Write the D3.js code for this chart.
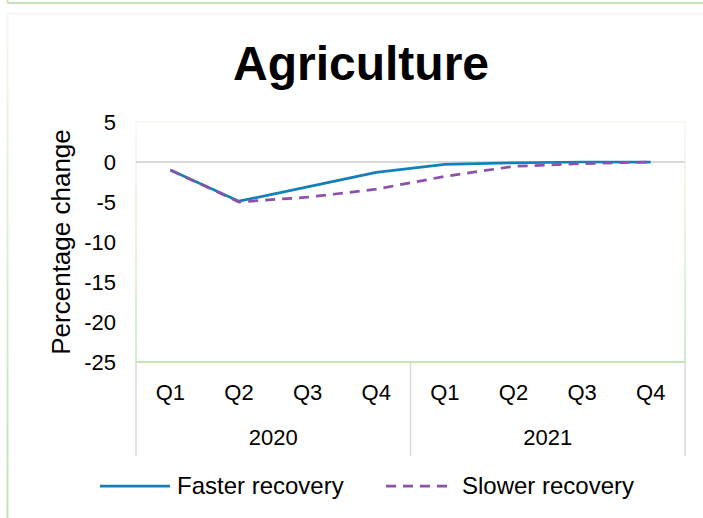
<!DOCTYPE html>
<html>
<head>
<meta charset="utf-8">
<script src="https://cdn.jsdelivr.net/npm/d3@7"></script>
<style>
  html, body { margin: 0; padding: 0; background: #ffffff; }
  svg { display: block; font-family: "Liberation Sans", Arial, sans-serif; }
</style>
</head>
<body>
<svg id="chart" width="703" height="518"></svg>
<script>
// Quarterly percentage change in agricultural output under two recovery paths
const years = ["2020", "2021"];
const quarters = ["Q1", "Q2", "Q3", "Q4"];
const categories = ["2020 Q1", "2020 Q2", "2020 Q3", "2020 Q4",
                    "2021 Q1", "2021 Q2", "2021 Q3", "2021 Q4"];
const fasterRecovery = [-1.0, -4.9, -3.1, -1.3, -0.3, -0.1, 0.0, 0.0];
const slowerRecovery = [-1.0, -5.0, -4.4, -3.4, -1.8, -0.55, -0.2, 0.0];
const yTicks = [5, 0, -5, -10, -15, -20, -25];
const seriesNames = ["Faster recovery", "Slower recovery"];

const svg = d3.select("#chart");
const defs = svg.append("defs");

const plot = { left: 136, right: 685, top: 122, bottom: 362 };
const labelSize = 22;
const blue = "#1580b8";
const purple = "#8c52a8";
const dash = "10,7";

// Vertical fades for the green frame edges
function fade(id, from, to) {
  const g = defs.append("linearGradient").attr("id", id)
    .attr("x1", 0).attr("y1", 0).attr("x2", 0).attr("y2", 1);
  g.append("stop").attr("offset", "0%").attr("stop-color", from);
  g.append("stop").attr("offset", "100%").attr("stop-color", to);
}
fade("panelEdge", "#f1f8ed", "#c3e2b3");
fade("plotEdge", "#f3f9ef", "#c8e4b9");

// Bottom edge of the panel above
svg.append("line").attr("x1", 7.5).attr("x2", 703).attr("y1", 3).attr("y2", 3)
  .attr("stroke", "#c6e2b6").attr("stroke-width", 2);
svg.append("line").attr("x1", 7.5).attr("x2", 7.5).attr("y1", 0).attr("y2", 3)
  .attr("stroke", "#c6e2b6").attr("stroke-width", 2);

// Chart panel frame
svg.append("line").attr("x1", 7.5).attr("x2", 703).attr("y1", 13.5).attr("y2", 13.5)
  .attr("stroke", "#eef7ea").attr("stroke-width", 1.5);
svg.append("rect").attr("x", 6.5).attr("y", 13).attr("width", 2).attr("height", 505)
  .attr("fill", "url(#panelEdge)");

// Title
svg.append("text").attr("x", 361).attr("y", 80)
  .attr("text-anchor", "middle").attr("font-weight", "bold")
  .attr("font-size", 48).attr("fill", "#000").text("Agriculture");

// Scales
const x = d3.scaleBand().domain(categories).range([plot.left, plot.right]);
const y = d3.scaleLinear().domain([-25, 5]).range([plot.bottom, plot.top]);
const cx = d => x(d) + x.bandwidth() / 2;

// Plot area frame
svg.append("line").attr("x1", plot.left).attr("x2", plot.right)
  .attr("y1", plot.top).attr("y2", plot.top)
  .attr("stroke", "#f0f8ec").attr("stroke-width", 1.5);
[plot.left, plot.right].forEach(px => {
  svg.append("rect").attr("x", px - 0.75).attr("y", plot.top)
    .attr("width", 1.5).attr("height", plot.bottom - plot.top)
    .attr("fill", "url(#plotEdge)");
});
svg.append("line").attr("x1", plot.left - 0.75).attr("x2", plot.right + 0.75)
  .attr("y1", plot.bottom).attr("y2", plot.bottom)
  .attr("stroke", "#c8e4b9").attr("stroke-width", 2);

// Zero reference line
svg.append("line").attr("x1", plot.left).attr("x2", plot.right)
  .attr("y1", y(0)).attr("y2", y(0))
  .attr("stroke", "#d9d9d9").attr("stroke-width", 2);

// Y axis labels
const yAxis = d3.axisLeft(y).tickValues(yTicks).tickSize(0).tickPadding(0)
  .tickFormat(d => String(d));
const yg = svg.append("g").attr("transform", `translate(${116},0)`).call(yAxis);
yg.select(".domain").remove();
yg.selectAll("text").attr("font-size", labelSize).attr("fill", "#000")
  .attr("font-family", "Liberation Sans, Arial, sans-serif");

// Y axis title
svg.append("text")
  .attr("transform", `translate(70,${(plot.top + plot.bottom) / 2}) rotate(-90)`)
  .attr("text-anchor", "middle").attr("font-size", 26).attr("fill", "#000")
  .text("Percentage change");

// Category axis: year group separators and labels
const sepBottom = 456;
const groupEdges = [categories[0], categories[4]].map(c => x(c)).concat([plot.right]);
svg.selectAll("line.sep").data(groupEdges).enter().append("line")
  .attr("class", "sep")
  .attr("x1", d => d).attr("x2", d => d)
  .attr("y1", plot.bottom + 1).attr("y2", sepBottom)
  .attr("stroke", "#d9d9d9").attr("stroke-width", 1.5);

const xAxis = d3.axisBottom(x).tickSize(0).tickPadding(0)
  .tickFormat(d => d.split(" ")[1]);
const xg = svg.append("g").attr("transform", `translate(0,${384})`).call(xAxis);
xg.select(".domain").remove();
xg.selectAll("text").attr("font-size", labelSize).attr("fill", "#000")
  .attr("font-family", "Liberation Sans, Arial, sans-serif");

svg.selectAll("text.year").data(years).enter().append("text")
  .attr("class", "year")
  .attr("x", (d, i) => (cx(categories[i * 4]) + cx(categories[i * 4 + 3])) / 2)
  .attr("y", 445).attr("text-anchor", "middle")
  .attr("font-size", labelSize).attr("fill", "#000").text(d => d);

// Series lines
const line = d3.line().x((d, i) => cx(categories[i])).y(d => y(d));

svg.append("path").datum(fasterRecovery)
  .attr("d", line).attr("fill", "none")
  .attr("stroke", blue).attr("stroke-width", 2.75)
  .attr("stroke-linejoin", "round");

svg.append("path").datum(slowerRecovery)
  .attr("d", line).attr("fill", "none")
  .attr("stroke", purple).attr("stroke-width", 2.75)
  .attr("stroke-dasharray", dash);

// Legend
const legend = svg.append("g");
legend.append("line").attr("x1", 100).attr("x2", 170).attr("y1", 486).attr("y2", 486)
  .attr("stroke", blue).attr("stroke-width", 2.75);
legend.append("text").attr("x", 177).attr("y", 494)
  .attr("font-size", 24).attr("fill", "#000").text(seriesNames[0]);
legend.append("line").attr("x1", 386).attr("x2", 453).attr("y1", 486).attr("y2", 486)
  .attr("stroke", purple).attr("stroke-width", 2.75)
  .attr("stroke-dasharray", dash);
legend.append("text").attr("x", 462).attr("y", 494)
  .attr("font-size", 24).attr("fill", "#000").text(seriesNames[1]);
</script>
</body>
</html>
